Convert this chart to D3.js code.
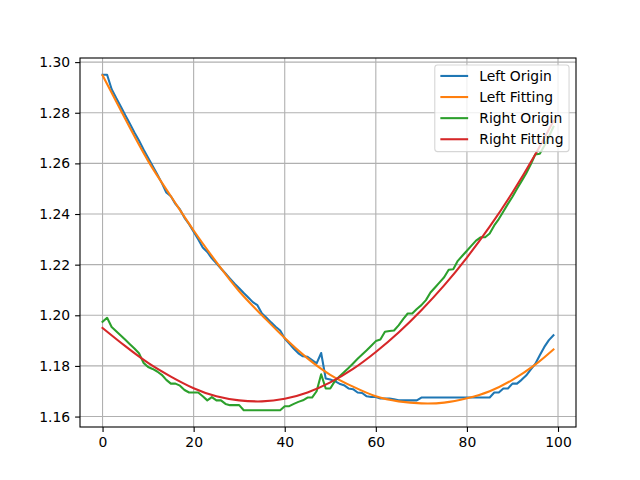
<!DOCTYPE html>
<html>
<head>
<meta charset="utf-8">
<script src="https://cdn.jsdelivr.net/npm/d3@7"></script>
<style>
  body { margin: 0; background: #fff; }
  svg { display: block; }
  text { font-family: "DejaVu Sans", sans-serif; }
</style>
</head>
<body>
<svg id="chart" width="640" height="480"></svg>
<script>
// values
var leftOrigin = [
  1.2950, 1.2950, 1.2893, 1.2858, 1.2825, 1.2790, 1.2757, 1.2722, 1.2690, 1.2655,
  1.2622, 1.2590, 1.2557, 1.2523, 1.2485, 1.2470, 1.2440, 1.2418, 1.2385, 1.2360,
  1.2330, 1.2300, 1.2268, 1.2250, 1.2225, 1.2205, 1.2185, 1.2165, 1.2145, 1.2125,
  1.2107, 1.2088, 1.2070, 1.2052, 1.2040, 1.2007, 1.1990, 1.1972, 1.1955, 1.1940,
  1.1908, 1.1888, 1.1868, 1.1850, 1.1838, 1.1836, 1.1823, 1.1810, 1.1851, 1.1750,
  1.1746, 1.1740, 1.1730, 1.1724, 1.1711, 1.1708, 1.1695, 1.1693, 1.1680, 1.1677,
  1.1677, 1.1671, 1.1671, 1.1671, 1.1668, 1.1664, 1.1664, 1.1664, 1.1664, 1.1664,
  1.1675, 1.1675, 1.1675, 1.1675, 1.1675, 1.1675, 1.1675, 1.1675, 1.1675, 1.1675,
  1.1675, 1.1675, 1.1675, 1.1675, 1.1675, 1.1675, 1.1695, 1.1695, 1.1711, 1.1711,
  1.1730, 1.1730, 1.1745, 1.1762, 1.1785, 1.1808, 1.1842, 1.1875, 1.1902, 1.1921
];
var rightOrigin = [
  1.1974, 1.1990, 1.1954, 1.1937, 1.1920, 1.1903, 1.1886, 1.1869, 1.1850, 1.1812,
  1.1796, 1.1788, 1.1778, 1.1765, 1.1745, 1.1730, 1.1730, 1.1722, 1.1705, 1.1695,
  1.1695, 1.1695, 1.1680, 1.1664, 1.1677, 1.1664, 1.1664, 1.1650, 1.1645, 1.1645,
  1.1645, 1.1625, 1.1625, 1.1625, 1.1625, 1.1625, 1.1625, 1.1625, 1.1625, 1.1625,
  1.1641, 1.1641, 1.1650, 1.1658, 1.1664, 1.1675, 1.1675, 1.1700, 1.1767, 1.1711,
  1.1711, 1.1740, 1.1758, 1.1775, 1.1792, 1.1810, 1.1828, 1.1845, 1.1862, 1.1880,
  1.1898, 1.1904, 1.1935, 1.1938, 1.1940, 1.1960, 1.1985, 1.2007, 1.2007, 1.2025,
  1.2040, 1.2060, 1.2090, 1.2110, 1.2130, 1.2150, 1.2180, 1.2182, 1.2215, 1.2235,
  1.2255, 1.2275, 1.2295, 1.2308, 1.2308, 1.2323, 1.2355, 1.2380, 1.2410, 1.2440,
  1.2468, 1.2500, 1.2530, 1.2560, 1.2595, 1.2635, 1.2638, 1.2670, 1.2705, 1.2745
];
// fitted curves, read at every 5th sample
var fitX = [0, 5, 10, 15, 20, 25, 30, 35, 40, 45, 50, 55, 60, 65, 70, 75, 80, 85, 90, 95, 99];
var leftFitting = [1.2948, 1.2775, 1.2610, 1.2470, 1.2335, 1.2210, 1.2095, 1.2000, 1.1910, 1.1830,
  1.1765, 1.1718, 1.1680, 1.1660, 1.1652, 1.1655, 1.1672, 1.1700, 1.1745, 1.1805, 1.1865];
var rightFitting = [1.1950, 1.1878, 1.1812, 1.1758, 1.1712, 1.1680, 1.1664, 1.1660, 1.1670, 1.1695,
  1.1735, 1.1788, 1.1855, 1.1932, 1.2020, 1.2118, 1.2228, 1.2350, 1.2485, 1.2635, 1.2768];

var seriesNames = ["Left Origin", "Left Fitting", "Right Origin", "Right Fitting"];
var colors = ["#1f77b4", "#ff7f0e", "#2ca02c", "#d62728"];
var xTicks = [0, 20, 40, 60, 80, 100];
var yTicks = [1.16, 1.18, 1.20, 1.22, 1.24, 1.26, 1.28, 1.30];

var svg = d3.select("#chart"),
    margin = {top: 58, right: 64, bottom: 53, left: 80},
    width = 640 - margin.left - margin.right,
    height = 480 - margin.top - margin.bottom,
    g = svg.append("g").attr("transform", "translate(" + margin.left + "," + margin.top + ")");

var origin = leftOrigin.map(function(v, i) { return i; });
var series = [
  {x: origin, y: leftOrigin, curve: d3.curveLinear},
  {x: fitX, y: leftFitting, curve: d3.curveNatural},
  {x: origin, y: rightOrigin, curve: d3.curveLinear},
  {x: fitX, y: rightFitting, curve: d3.curveNatural}
];

var allY = leftOrigin.concat(rightOrigin, leftFitting, rightFitting);
var yMin = d3.min(allY), yMax = d3.max(allY), yPad = (yMax - yMin) * 0.05;
var xPad = 99 * 0.05;

var x = d3.scaleLinear().domain([0 - xPad, 99 + xPad]).range([0, width]);
var y = d3.scaleLinear().domain([yMin - yPad, yMax + yPad]).range([height, 0]);

// grid
g.append("g").selectAll("line").data(xTicks).enter().append("line")
    .attr("x1", function(d) { return x(d); }).attr("x2", function(d) { return x(d); })
    .attr("y1", 0).attr("y2", height)
    .attr("stroke", "#b0b0b0").attr("stroke-width", 1.1);
g.append("g").selectAll("line").data(yTicks).enter().append("line")
    .attr("y1", function(d) { return y(d); }).attr("y2", function(d) { return y(d); })
    .attr("x1", 0).attr("x2", width)
    .attr("stroke", "#b0b0b0").attr("stroke-width", 1.1);

// lines
series.forEach(function(s, k) {
    var line = d3.line()
        .x(function(d, i) { return x(s.x[i]); })
        .y(function(d) { return y(d); })
        .curve(s.curve);
    g.append("path")
        .attr("d", line(s.y))
        .attr("fill", "none")
        .attr("stroke", colors[k])
        .attr("stroke-width", 2.08)
        .attr("stroke-linejoin", "round")
        .attr("stroke-linecap", "square");
});

// axes
var xAxis = g.append("g")
    .attr("transform", "translate(0," + height + ")")
    .call(d3.axisBottom(x).tickValues(xTicks).tickSizeInner(4.9).tickSizeOuter(0).tickPadding(4.9));
var yAxis = g.append("g")
    .call(d3.axisLeft(y).tickValues(yTicks).tickFormat(d3.format(".2f"))
        .tickSizeInner(4.9).tickSizeOuter(0).tickPadding(4.9));
[xAxis, yAxis].forEach(function(a) {
    a.select(".domain").remove();
    a.selectAll("line").attr("stroke", "#000").attr("stroke-width", 1.1);
    a.selectAll("text").attr("fill", "#000").style("font-size", "13.9px")
        .style("font-family", "'DejaVu Sans', sans-serif");
});

// frame
g.append("rect")
    .attr("x", 0).attr("y", 0).attr("width", width).attr("height", height)
    .attr("fill", "none").attr("stroke", "#000").attr("stroke-width", 1.1);

// legend
var fs = 13.9, pad = 0.4 * fs, handle = 2 * fs, textPad = 0.8 * fs, rowH = 21.1;
var legend = g.append("g");
var box = legend.append("rect")
    .attr("fill", "#fff").attr("fill-opacity", 0.8)
    .attr("stroke", "#cccccc").attr("stroke-opacity", 0.8).attr("stroke-width", 1.1)
    .attr("rx", 2.8).attr("ry", 2.8);
var rows = legend.selectAll("g.row").data(seriesNames).enter().append("g").attr("class", "row");
var labels = rows.append("text")
    .style("font-size", fs + "px")
    .attr("dy", "0.35em")
    .attr("fill", "#000")
    .text(function(d) { return d; });
var maxW = d3.max(labels.nodes(), function(n) { return n.getComputedTextLength(); });
var boxW = pad + handle + textPad + maxW + pad;
var boxH = 86.7;
var boxRight = width - 0.5 * fs, boxTop = 0.5 * fs;
var boxLeft = boxRight - boxW;
box.attr("x", boxLeft).attr("y", boxTop).attr("width", boxW).attr("height", boxH);
rows.attr("transform", function(d, i) { return "translate(" + (boxLeft + pad) + "," + (boxTop + 11 + i * rowH) + ")"; });
rows.append("line")
    .attr("x1", 0).attr("x2", handle).attr("y1", 0).attr("y2", 0)
    .attr("stroke", function(d, i) { return colors[i]; })
    .attr("stroke-width", 2.08);
labels.attr("x", handle + textPad);
</script>
</body>
</html>
